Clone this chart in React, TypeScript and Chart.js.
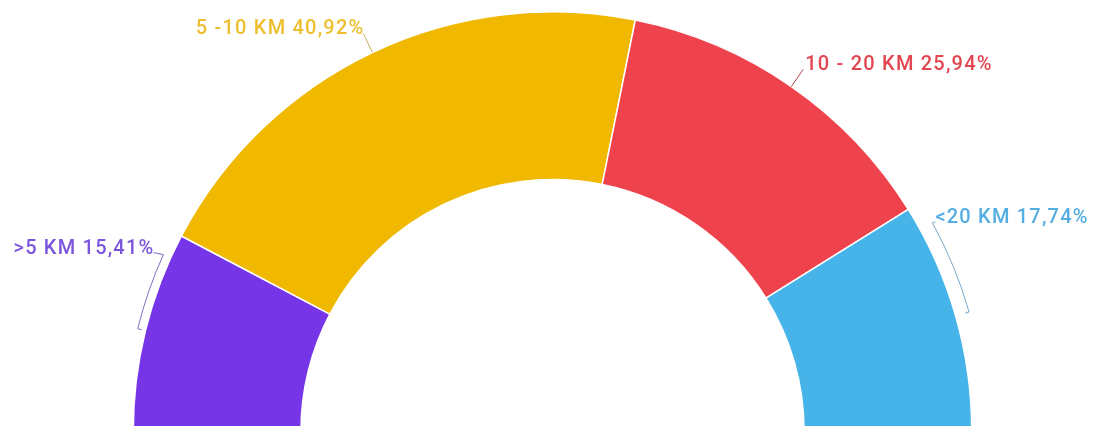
import React, { useEffect, useRef } from "react";
import { Chart, registerables } from "chart.js";

Chart.register(...registerables);

const categories = [">5 KM", "5 -10 KM", "10 - 20 KM", "<20 KM"];
const shares = [15.41, 40.92, 25.94, 17.74];

const sliceColors = ["#7635E6", "#F0B900", "#EE424C", "#46B4E8"];
const textColors = ["#7B55DC", "#EDBF2E", "#E24651", "#55AEE2"];
const lineColors = ["#7E6FC4", "#C8AE5C", "#B4434D", "#7AA6C6"];

// leader style per slice: bracket (tick fraction, anchor fraction, radial gap) or straight
const leaderKinds = ["bracket", "straight", "straight", "bracket"];
const bracketTick = [0.5, 0, 0, 0.5];
const bracketAnchor = [0.88, 0, 0, 0.1];
const bracketGap = [8, 0, 0, 14];

const fmt = (v: number) => v.toFixed(2).replace(".", ",") + "%";

const labelPlugin = {
  id: "sideLabels",
  afterDatasetsDraw(chart: any) {
    const ctx = chart.ctx as CanvasRenderingContext2D;
    const meta = chart.getDatasetMeta(0);
    ctx.save();
    ctx.font = "500 20px Roboto";
    (ctx as any).letterSpacing = "1.2px";
    ctx.lineWidth = 1;
    meta.data.forEach((arc: any, i: number) => {
      const { x, y, startAngle, endAngle, outerRadius } = arc.getProps(
        ["x", "y", "startAngle", "endAngle", "outerRadius"],
        true
      );
      const text = `${categories[i]} ${fmt(shares[i])}`;
      const pt = (a: number, r: number) => [x + r * Math.cos(a), y + r * Math.sin(a)];
      ctx.strokeStyle = lineColors[i];
      ctx.fillStyle = textColors[i];
      ctx.textBaseline = "alphabetic";
      if (leaderKinds[i] === "straight") {
        const mid = (startAngle + endAngle) / 2;
        const [x1, y1] = pt(mid, outerRadius);
        const [x2, y2] = pt(mid, outerRadius + 21);
        ctx.beginPath();
        ctx.moveTo(x1, y1);
        ctx.lineTo(x2, y2);
        ctx.stroke();
        const right = Math.cos(mid) > 0;
        ctx.textAlign = right ? "left" : "right";
        ctx.fillText(text, right ? x2 + 2 : x2 + 1, y2 + 0.5);
      } else {
        const rb = outerRadius + bracketGap[i];
        const aT = startAngle + bracketTick[i] * (endAngle - startAngle);
        const aA = startAngle + bracketAnchor[i] * (endAngle - startAngle);
        const [tx1, ty1] = pt(aT, rb - 4);
        const [tx2, ty2] = pt(aT, rb);
        ctx.beginPath();
        ctx.moveTo(tx1, ty1);
        ctx.lineTo(tx2, ty2);
        ctx.arc(x, y, rb, aT, aA, aA < aT);
        ctx.stroke();
        const [ax, ay] = pt(aA, rb);
        const right = Math.cos(aA) > 0;
        ctx.beginPath();
        ctx.moveTo(ax, ay);
        if (right) {
          ctx.lineTo(ax + 3, ay - 1);
        } else {
          ctx.lineTo(ax - 10, ay - 2);
        }
        ctx.stroke();
        ctx.textAlign = right ? "left" : "right";
        if (right) ctx.fillText(text, ax + 3, ay);
        else ctx.fillText(text, ax - 9, ay - 1);
      }
    });
    ctx.restore();
  },
};

export default function App() {
  const ref = useRef<HTMLCanvasElement | null>(null);
  useEffect(() => {
    document.body.style.margin = "0";
    const canvas = ref.current!;
    const chart = new Chart(canvas, {
      type: "doughnut",
      data: {
        labels: categories,
        datasets: [
          {
            data: shares,
            backgroundColor: sliceColors,
            borderColor: "#ffffff",
            borderWidth: 1.5,
            hoverOffset: 0,
          },
        ],
      },
      options: {
        responsive: false,
        animation: false,
        rotation: -90,
        circumference: 180,
        cutout: "60%",
        layout: { padding: { left: 132.5, right: 120.5, top: 11, bottom: 8 } },
        plugins: {
          legend: { display: false },
          tooltip: { enabled: false },
        },
      },
      plugins: [labelPlugin],
    });
    return () => chart.destroy();
  }, []);
  return (
    <div
      style={{
        position: "fixed",
        left: 0,
        top: 0,
        width: 1093,
        height: 426,
        overflow: "hidden",
        background: "#ffffff",
      }}
    >
      <canvas ref={ref} width={1093} height={440} style={{ width: 1093, height: 440, display: "block" }} />
    </div>
  );
}
